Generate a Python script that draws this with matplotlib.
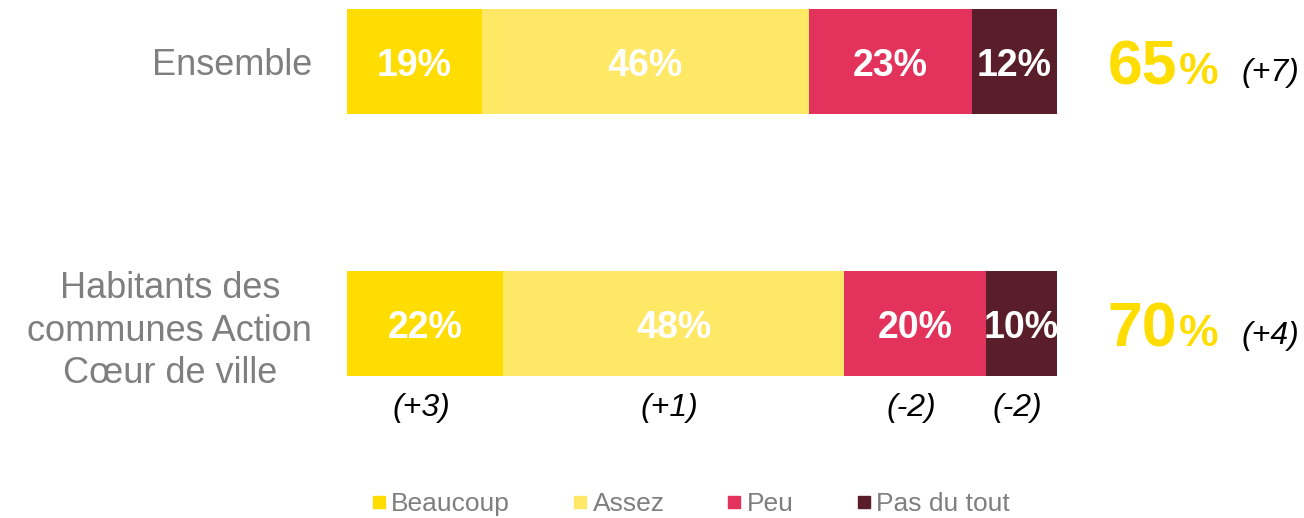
import numpy as np
import matplotlib.pyplot as plt
from matplotlib.lines import Line2D

plt.rcParams['font.family'] = ['Liberation Sans', 'DejaVu Sans']

# data
groups = ["Ensemble", "Habitants des\ncommunes Action\nCœur de ville"]
answers = ["Beaucoup", "Assez", "Peu", "Pas du tout"]
values = [
    [19, 46, 23, 12],
    [22, 48, 20, 10],
]
totals = [65, 70]
total_deltas = ["(+7)", "(+4)"]
acv_deltas = ["(+3)", "(+1)", "(-2)", "(-2)"]

colors = ["#FFDD00", "#FFE866", "#E3335C", "#5A1E2A"]
gray = "#7F7F7F"

fig = plt.figure(figsize=(13.04, 5.18), dpi=100)
fig.patch.set_facecolor("white")
# axes: 0..100 spans the bar width, full figure height
ax = fig.add_axes([347 / 1304, 0, 710 / 1304, 1])

vals = np.array(values)
starts = np.cumsum(vals, axis=1) - vals
ypos = np.arange(len(groups))

for j, name in enumerate(answers):
    ax.barh(ypos, vals[:, j], left=starts[:, j], height=0.4,
            color=colors[j], label=name)
    for i in range(len(groups)):
        ax.text(starts[i, j] + vals[i, j] / 2, ypos[i], f"{vals[i, j]}%",
                ha="center", va="center_baseline", color="white",
                fontsize=27, fontweight="bold")

ax.set_xlim(0, 100)
ax.set_ylim(1.742, -0.2347)
ax.set_yticks(ypos)
ax.set_yticklabels(groups, fontsize=26, color=gray, multialignment="center",
                   linespacing=1.27)
ax.tick_params(axis="y", length=0, pad=25)
ax.set_xticks([])
for s in ax.spines.values():
    s.set_visible(False)

# totals on the right
for i, (tot, d) in enumerate(zip(totals, total_deltas)):
    ax.annotate(f"{tot}", xy=(1, ypos[i]), xycoords=("axes fraction", "data"),
                xytext=(86.5, -16.5), textcoords="offset points",
                ha="right", va="baseline", fontsize=45, fontweight="bold",
                color=colors[0])
    ax.annotate("%", xy=(1, ypos[i]), xycoords=("axes fraction", "data"),
                xytext=(87.5, -16.5), textcoords="offset points",
                ha="left", va="baseline", fontsize=32, fontweight="bold",
                color=colors[0])
    ax.annotate(d, xy=(1, ypos[i]), xycoords=("axes fraction", "data"),
                xytext=(133, -8.6), textcoords="offset points",
                ha="left", va="center", fontsize=23, style="italic",
                color="black")

# evolutions under the second bar
centers = starts[1] + vals[1] / 2
for cx, d in zip(centers, acv_deltas):
    ax.annotate(d, xy=(cx, 1.3225), xytext=(-3, 0), textcoords="offset points",
                ha="center", va="center", fontsize=23, style="italic",
                color="black")

handles = [Line2D([], [], marker="s", linestyle="none", color=c, markersize=8.6)
           for c in colors]
fig.legend(handles, answers, loc="center", ncol=4, frameon=False,
           bbox_to_anchor=(691 / 1304, 1 - 504 / 518), fontsize=19,
           labelcolor=gray, handlelength=0.5, handletextpad=0.22,
           columnspacing=2.4)

fig.savefig("out.png", dpi=100, facecolor="white")
